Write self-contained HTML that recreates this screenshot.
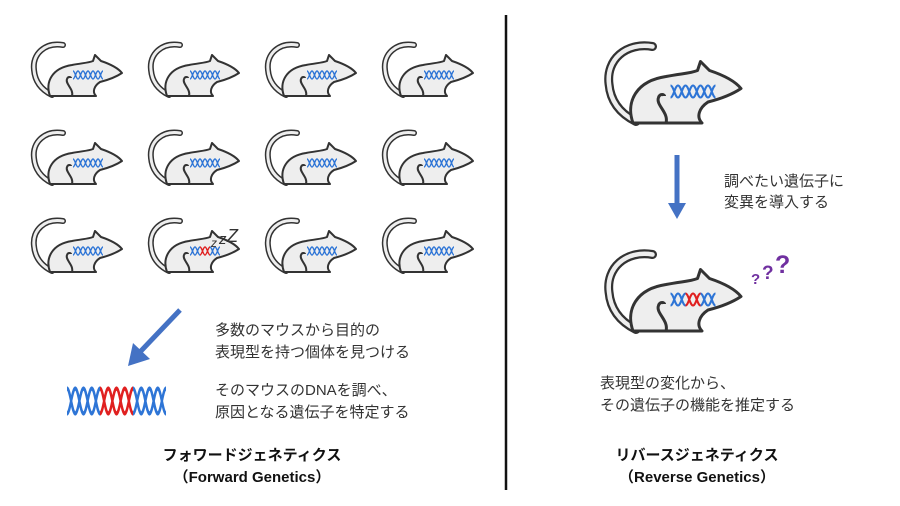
<!DOCTYPE html>
<html><head><meta charset="utf-8"><style>
body{margin:0;background:#fff}
svg{display:block}
text{font-family:"Liberation Sans","Noto Sans CJK JP",sans-serif;fill:#333}
</style></head><body>
<svg width="900" height="506" viewBox="0 0 900 506">
<defs>
<g id="mouse">
  <path d="M33,3 C15,0 2,12 4,28 C5,40 12,48 22,53" fill="none" stroke="#333" stroke-width="6" stroke-linecap="round"/>
  <path d="M33,3 C15,0 2,12 4,28 C5,40 12,48 22,53" fill="none" stroke="#eee" stroke-width="3" stroke-linecap="round"/>
  <path d="M20,54 C15,40 22,26 42,23 C52,21 58,21 63,19 L65,13 L71,19 C80,22 88,26 92,31 C86,35 78,38 70,40 C64,44 62,50 66,54 Z" fill="#eee" stroke="#333" stroke-width="2" stroke-linejoin="round"/>
  <path d="M42,54 C44,47 35,42 37,37 C38,34 41,35 41,36" fill="none" stroke="#333" stroke-width="2"/>
</g>
<g id="u">
  <path d="M0,-4 C2,-4 3,4 5,4 C7,4 8,-4 10,-4 M0,4 C2,4 3,-4 5,-4 C7,-4 8,4 10,4" fill="none" stroke="#2E75D6" stroke-width="1.4"/>
</g>
<g id="ur">
  <path d="M0,-4 C2,-4 3,4 5,4 C7,4 8,-4 10,-4 M0,4 C2,4 3,-4 5,-4 C7,-4 8,4 10,4" fill="none" stroke="#E02020" stroke-width="1.4"/>
</g>
<g id="dna"><use href="#u"/><use href="#u" x="10"/><use href="#u" x="20"/></g>
<g id="dnam"><use href="#u"/><use href="#ur" x="10"/><use href="#u" x="20"/></g>
</defs>

<g transform="translate(30,42)"><use href="#mouse"/><use href="#dna" x="43" y="33"/></g>
<g transform="translate(147,42)"><use href="#mouse"/><use href="#dna" x="43" y="33"/></g>
<g transform="translate(264,42)"><use href="#mouse"/><use href="#dna" x="43" y="33"/></g>
<g transform="translate(381,42)"><use href="#mouse"/><use href="#dna" x="43" y="33"/></g>
<g transform="translate(30,130)"><use href="#mouse"/><use href="#dna" x="43" y="33"/></g>
<g transform="translate(147,130)"><use href="#mouse"/><use href="#dna" x="43" y="33"/></g>
<g transform="translate(264,130)"><use href="#mouse"/><use href="#dna" x="43" y="33"/></g>
<g transform="translate(381,130)"><use href="#mouse"/><use href="#dna" x="43" y="33"/></g>
<g transform="translate(30,218)"><use href="#mouse"/><use href="#dna" x="43" y="33"/></g>
<g transform="translate(147,218)"><use href="#mouse"/><use href="#dnam" x="43" y="33"/></g>
<g transform="translate(264,218)"><use href="#mouse"/><use href="#dna" x="43" y="33"/></g>
<g transform="translate(381,218)"><use href="#mouse"/><use href="#dna" x="43" y="33"/></g>
<text x="211" y="247" font-size="12" style="font-style:italic">z</text>
<text x="219" y="244" font-size="15" style="font-style:italic">z</text>
<text x="227" y="242" font-size="18" style="font-style:italic">Z</text>

<line x1="180" y1="310" x2="140" y2="352" stroke="#4472C4" stroke-width="5"/>
<polygon points="128,366 133,343 150,359" fill="#4472C4"/>

<g transform="translate(67,401) scale(1.65,3.1)">
  <use href="#u"/><use href="#u" x="10"/>
  <use href="#ur" x="20"/><use href="#ur" x="30"/>
  <use href="#u" x="40"/><use href="#u" x="50"/>
</g>

<text x="215" y="335" font-size="15">多数のマウスから目的の</text>
<text x="215" y="357" font-size="15">表現型を持つ個体を見つける</text>
<text x="215" y="395" font-size="15">そのマウスのDNAを調べ、</text>
<text x="215" y="417" font-size="15">原因となる遺伝子を特定する</text>
<text x="252" y="460" font-size="15" font-weight="bold" text-anchor="middle" style="fill:#111">フォワードジェネティクス</text>
<text x="252" y="482" font-size="15" font-weight="bold" text-anchor="middle" style="fill:#111">（Forward Genetics）</text>

<line x1="506" y1="15" x2="506" y2="490" stroke="#111" stroke-width="2.5"/>

<g transform="translate(603,42) scale(1.5)"><use href="#mouse"/><use href="#dna" x="45" y="33"/></g>
<line x1="677" y1="155" x2="677" y2="205" stroke="#4472C4" stroke-width="5"/>
<polygon points="668,203 686,203 677,219" fill="#4472C4"/>
<text x="724" y="186" font-size="15">調べたい遺伝子に</text>
<text x="724" y="207" font-size="15">変異を導入する</text>

<g transform="translate(603,250) scale(1.5)"><use href="#mouse"/><use href="#dnam" x="45" y="33"/></g>
<text x="751" y="284" font-size="15" font-weight="bold" style="fill:#7030A0">?</text>
<text x="762" y="279" font-size="19" font-weight="bold" style="fill:#7030A0">?</text>
<text x="775" y="273" font-size="25" font-weight="bold" style="fill:#7030A0">?</text>

<text x="600" y="388" font-size="15">表現型の変化から、</text>
<text x="600" y="410" font-size="15">その遺伝子の機能を推定する</text>
<text x="697" y="460" font-size="15" font-weight="bold" text-anchor="middle" style="fill:#111">リバースジェネティクス</text>
<text x="697" y="482" font-size="15" font-weight="bold" text-anchor="middle" style="fill:#111">（Reverse Genetics）</text>
</svg>
</body></html>
